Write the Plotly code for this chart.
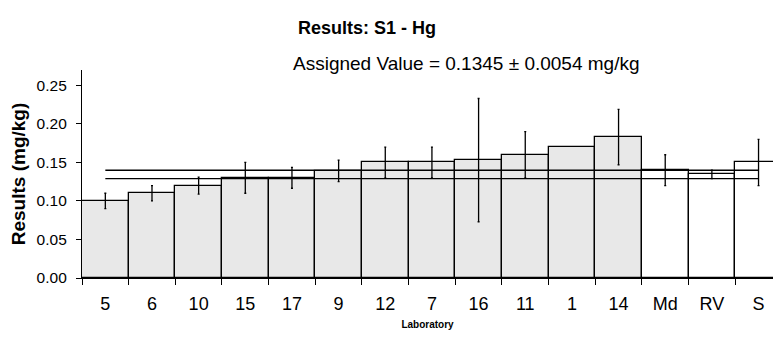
import plotly.graph_objects as go

labs = ["5", "6", "10", "15", "17", "9", "12", "7", "16", "11", "1", "14", "Md", "RV", "S"]
results = [0.100, 0.110, 0.120, 0.130, 0.130, 0.139, 0.150, 0.150, 0.153, 0.160, 0.170, 0.183, 0.140, 0.1345, 0.150]
uncert = [0.010, 0.010, 0.011, 0.020, 0.0135, 0.014, 0.020, 0.020, 0.080, 0.030, None, 0.036, 0.020, 0.0054, 0.030]
is_lab = [True] * 12 + [False] * 3
assigned = 0.1345
assigned_u = 0.0054

FONT = "Liberation Sans, Arial, sans-serif"

colors = ["#e8e8e8" if l else "#ffffff" for l in is_lab]

fig = go.Figure()
fig.add_trace(go.Bar(
    x=labs, y=results,
    marker=dict(color=colors, line=dict(color="black", width=1.3)),
    showlegend=False,
))
for v in (assigned + assigned_u, assigned - assigned_u):
    fig.add_trace(go.Scatter(x=[labs[0], labs[-1]], y=[v, v], mode="lines",
                             line=dict(color="black", width=1.3), showlegend=False,
                             hoverinfo="skip"))

eb = [(l, r, u) for l, r, u in zip(labs, results, uncert) if u is not None]
fig.add_trace(go.Scatter(
    x=[e[0] for e in eb], y=[e[1] for e in eb], mode="markers",
    marker=dict(size=1, color="rgba(0,0,0,0)"),
    error_y=dict(type="data", array=[e[2] for e in eb], color="black",
                 thickness=1.3, width=1, visible=True),
    showlegend=False, hoverinfo="skip",
))

fig.update_layout(
    width=773, height=338,
    margin=dict(l=82, r=0, t=70, b=60),
    paper_bgcolor="white", plot_bgcolor="white",
    bargap=0,
    font=dict(family=FONT, color="black"),
    title=dict(text="<b>Results: S1 - Hg</b>", x=367 / 773, xanchor="center",
               y=1 - 28 / 338, yanchor="middle", font=dict(size=18, family=FONT, color="black")),
    annotations=[dict(text=f"Assigned Value = {assigned} ± {assigned_u} mg/kg",
                      x=(466.7 - 82) / 691, y=(278 - 63.5) / 208, xref="paper", yref="paper",
                      xanchor="center", yanchor="middle", showarrow=False,
                      font=dict(size=19, family=FONT, color="black"))],
)
fig.update_xaxes(
    type="category", range=[-0.5, 14.31],
    showline=True, linecolor="black", linewidth=1.3,
    ticks="outside", ticklen=6, tickcolor="black", tickwidth=1.3, tickson="boundaries",
    ticklabelstandoff=9,
    tickfont=dict(size=18, family=FONT, color="black"),
    title=dict(text="<b>Laboratory</b>", font=dict(size=10, family=FONT, color="black"), standoff=8),
    showgrid=False, zeroline=False,
)
fig.update_yaxes(
    range=[0, 0.27], tickvals=[0, 0.05, 0.10, 0.15, 0.20, 0.25], tickformat=".2f",
    showline=True, linecolor="black", linewidth=1.3,
    ticks="outside", ticklen=5, tickcolor="black", tickwidth=1.3,
    ticklabelstandoff=6,
    tickfont=dict(size=15.5, family=FONT, color="black"),
    title=dict(text="<b>Results (mg/kg)</b>", font=dict(size=19, family=FONT, color="black"), standoff=5),
    showgrid=False, zeroline=False,
)

fig.write_html("out.html")
